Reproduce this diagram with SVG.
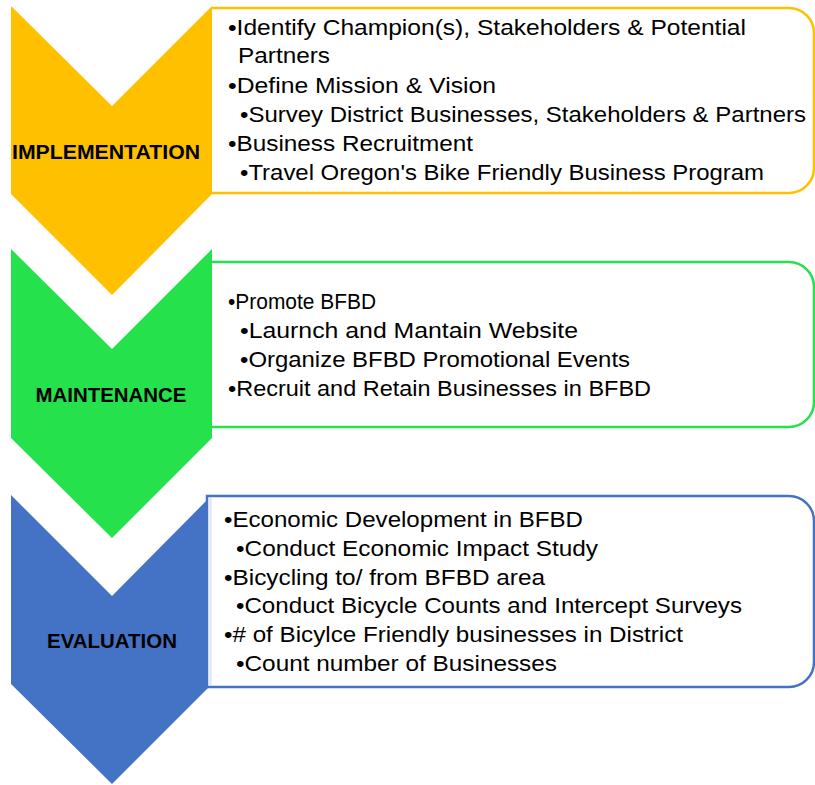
<svg xmlns="http://www.w3.org/2000/svg" width="815" height="785" viewBox="0 0 815 785">
<style>
.body{font-family:"Liberation Sans",Arial,sans-serif;font-size:22px;fill:#000}
.lbl{font-family:"Liberation Sans",Arial,sans-serif;font-size:20.5px;font-weight:bold;fill:#000;text-anchor:middle}
.box{fill:#fff;stroke-width:2.5}
</style>
<rect width="815" height="785" fill="#fff"/>
<g id="implementation">
<path class="box" d="M212,8 H789 A25,25 0 0 1 814,33 V168 A25,25 0 0 1 789,193 H212" stroke="#FFC000"/>
<polygon points="11,6 112,106 212,6 212,194 112,295 11,194" fill="#FFC000"/>
<text class="lbl" x="106" y="159" textLength="188" lengthAdjust="spacingAndGlyphs">IMPLEMENTATION</text>
<text class="body" x="228" y="35" textLength="518" lengthAdjust="spacingAndGlyphs">•Identify Champion(s), Stakeholders &amp; Potential</text>
<text class="body" x="238" y="63" textLength="92" lengthAdjust="spacingAndGlyphs">Partners</text>
<text class="body" x="228" y="93" textLength="268" lengthAdjust="spacingAndGlyphs">•Define Mission &amp; Vision</text>
<text class="body" x="240" y="122" textLength="566" lengthAdjust="spacingAndGlyphs">•Survey District Businesses, Stakeholders &amp; Partners</text>
<text class="body" x="228" y="151" textLength="245" lengthAdjust="spacingAndGlyphs">•Business Recruitment</text>
<text class="body" x="240" y="180" textLength="524" lengthAdjust="spacingAndGlyphs">•Travel Oregon's Bike Friendly Business Program</text>
</g>
<g id="maintenance">
<path class="box" d="M212,262 H789 A25,25 0 0 1 814,287 V402 A25,25 0 0 1 789,427 H212" stroke="#24E14C"/>
<polygon points="11,249 112,349 212,249 212,438 112,538 11,438" fill="#24E14C"/>
<text class="lbl" x="111" y="402" textLength="151" lengthAdjust="spacingAndGlyphs">MAINTENANCE</text>
<text class="body" x="228" y="309" textLength="148" lengthAdjust="spacingAndGlyphs">•Promote BFBD</text>
<text class="body" x="240" y="338" textLength="338" lengthAdjust="spacingAndGlyphs">•Laurnch and Mantain Website</text>
<text class="body" x="240" y="367" textLength="390" lengthAdjust="spacingAndGlyphs">•Organize BFBD Promotional Events</text>
<text class="body" x="228" y="396" textLength="423" lengthAdjust="spacingAndGlyphs">•Recruit and Retain Businesses in BFBD</text>
</g>
<g id="evaluation">
<polygon points="11,495 112,596 212,495 212,684 112,784 11,684" fill="#4472C4"/>
<path class="box" d="M207,496 H789 A25,25 0 0 1 814,521 V662 A25,25 0 0 1 789,687 H207 Z" stroke="#4472C4"/>
<line x1="210.5" y1="498" x2="210.5" y2="685" stroke="#DAE3F3" stroke-width="2"/>
<text class="lbl" x="112" y="648" textLength="130" lengthAdjust="spacingAndGlyphs">EVALUATION</text>
<text class="body" x="224" y="527" textLength="359" lengthAdjust="spacingAndGlyphs">•Economic Development in BFBD</text>
<text class="body" x="236" y="556" textLength="362" lengthAdjust="spacingAndGlyphs">•Conduct Economic Impact Study</text>
<text class="body" x="224" y="585" textLength="321" lengthAdjust="spacingAndGlyphs">•Bicycling to/ from BFBD area</text>
<text class="body" x="236" y="613" textLength="506" lengthAdjust="spacingAndGlyphs">•Conduct Bicycle Counts and Intercept Surveys</text>
<text class="body" x="224" y="642" textLength="459" lengthAdjust="spacingAndGlyphs">•# of Bicylce Friendly businesses in District</text>
<text class="body" x="236" y="671" textLength="321" lengthAdjust="spacingAndGlyphs">•Count number of Businesses</text>
</g>
<g id="connectors"></g>
</svg>
